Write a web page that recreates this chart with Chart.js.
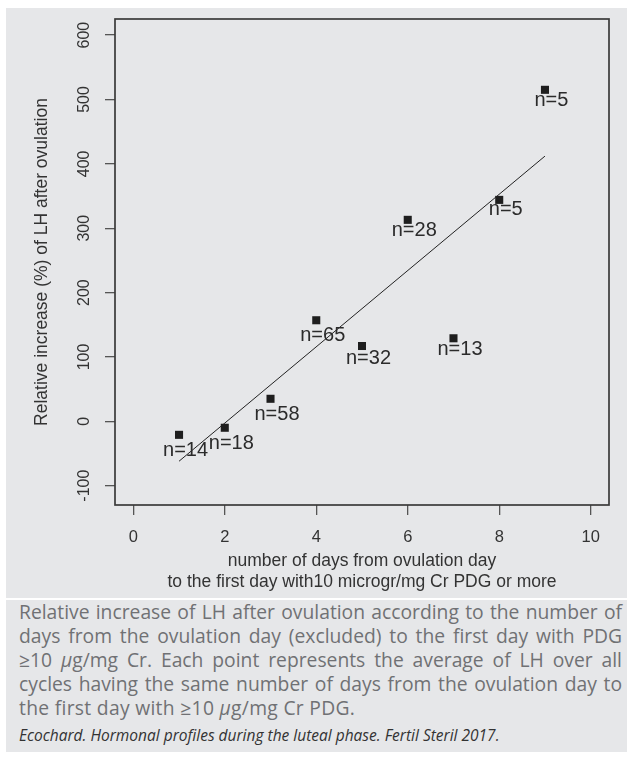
<!DOCTYPE html>
<html>
<head>
<meta charset="utf-8">
<script src="https://cdn.jsdelivr.net/npm/chart.js@4.4.1/dist/chart.umd.min.js"></script>
<style>
  html, body { margin: 0; padding: 0; background: #fff; }
  body { width: 627px; height: 757px; position: relative; overflow: hidden; }
  #plotPanel { position: absolute; left: 6px; top: 8px; width: 621px; height: 590px; background: #e6e7e9; }
  #scoreCanvas { position: absolute; left: 0; top: 0; }
  #caption { position: absolute; left: 6px; top: 600px; width: 621px; height: 152px; background: #e6e7e9; }
  .cap { position: absolute; left: 13px; width: 603px; font-family: "Open Sans", "Noto Sans", sans-serif; font-size: 19.3px; color: #707174; line-height: 24px; }
  .cap div { text-align: justify; text-align-last: justify; white-space: nowrap; }
  .cap div.last { text-align-last: left; letter-spacing: 0.3px; }
  .cite { position: absolute; left: 13px; top: 124px; font-family: "Open Sans", "Noto Sans", sans-serif; font-style: italic; font-size: 15.5px; color: #333; }
</style>
</head>
<body>
<div id="plotPanel"></div>
<canvas id="scoreCanvas" width="627" height="598"></canvas>
<div id="caption">
  <div class="cap" style="top: 0px;">
    <div>Relative increase of LH after ovulation according to the number of</div>
    <div>days from the ovulation day (excluded) to the first day with PDG</div>
    <div>≥10 <i>μ</i>g/mg Cr. Each point represents the average of LH over all</div>
    <div>cycles having the same number of days from the ovulation day to</div>
    <div class="last">the first day with ≥10 <i>μ</i>g/mg Cr PDG.</div>
  </div>
  <div class="cite">Ecochard. Hormonal profiles during the luteal phase. Fertil Steril 2017.</div>
</div>
<script>
// values
const days = [1, 2, 3, 4, 5, 6, 7, 8, 9];
const lhIncrease = [-21, -10, 35, 157, 117, 313, 129, 344, 515];
const sampleLabels = ['n=14', 'n=18', 'n=58', 'n=65', 'n=32', 'n=28', 'n=13', 'n=5', 'n=5'];
const labelY = [-46, -35, 10, 133, 98, 297, 111, 329, 498];
const fitDays = [1, 9];
const fitValues = [-62, 412];
const xTicks = [0, 2, 4, 6, 8, 10];
const yTicks = [-100, 0, 100, 200, 300, 400, 500, 600];

const axisFont = '"Liberation Sans", Arial, sans-serif';

// box, rotated y tick labels and n= labels
const annotate = {
    id: 'annotate',
    afterDatasetsDraw(chart) {
        const { ctx, chartArea, scales: { x, y } } = chart;
        ctx.save();
        ctx.strokeStyle = '#3a3a3a';
        ctx.lineWidth = 1.7;
        ctx.strokeRect(chartArea.left, chartArea.top, chartArea.right - chartArea.left, chartArea.bottom - chartArea.top);

        ctx.textAlign = 'center';
        ctx.textBaseline = 'middle';
        ctx.fillStyle = '#333';
        ctx.font = '16px ' + axisFont;
        yTicks.forEach(v => {
            ctx.save();
            ctx.translate(chartArea.left - 30, y.getPixelForValue(v));
            ctx.rotate(-Math.PI / 2);
            ctx.fillText(String(v), 0, 0);
            ctx.restore();
        });

        ctx.fillStyle = '#2b2b2b';
        ctx.font = '20px ' + axisFont;
        sampleLabels.forEach((t, i) => {
            ctx.fillText(t, x.getPixelForValue(days[i]) + 6.5, y.getPixelForValue(labelY[i]));
        });
        ctx.restore();
    }
};

const ctx = document.getElementById('scoreCanvas').getContext('2d');
const config = {
    type: 'scatter',
    data: {
        datasets: [{
            type: 'line',
            data: fitDays.map((d, i) => ({ x: d, y: fitValues[i] })),
            borderColor: '#222',
            borderWidth: 1,
            pointRadius: 0,
            fill: false
        }, {
            data: days.map((d, i) => ({ x: d, y: lhIncrease[i] })),
            pointStyle: 'rect',
            pointRadius: 5.7,
            backgroundColor: '#1e1e1e',
            borderWidth: 0
        }]
    },
    options: {
        responsive: false,
        animation: false,
        devicePixelRatio: 1,
        layout: { padding: { left: 0, top: 19, right: 18, bottom: 0 } },
        scales: {
            x: {
                type: 'linear',
                min: -0.4,
                max: 10.4,
                afterBuildTicks: s => { s.ticks = xTicks.map(v => ({ value: v })); },
                afterFit: s => { s.height = 93; },
                grid: { drawOnChartArea: false, tickLength: 10, color: '#555', lineWidth: 1.3 },
                border: { display: false },
                ticks: { color: '#333', padding: 13, font: { family: axisFont, size: 16.5 } },
                title: {
                    display: true,
                    text: ['number of days from ovulation day', 'to the first day with10 microgr/mg Cr PDG or more'],
                    color: '#333',
                    font: { family: axisFont, size: 17.5, lineHeight: 1.2 },
                    padding: { top: 0, bottom: 5.5 }
                }
            },
            y: {
                type: 'linear',
                min: -130,
                max: 625,
                afterBuildTicks: s => { s.ticks = yTicks.map(v => ({ value: v })); },
                afterFit: s => { s.width = 115; },
                grid: { drawOnChartArea: false, tickLength: 10, color: '#555', lineWidth: 1.3 },
                border: { display: false },
                ticks: { display: false },
                title: {
                    display: true,
                    text: 'Relative increase (%) of LH after ovulation',
                    color: '#333',
                    font: { family: axisFont, size: 17.5, lineHeight: 1.2 },
                    padding: { top: 31.5, bottom: 0 }
                }
            }
        },
        plugins: {
            legend: { display: false },
            tooltip: { enabled: false }
        }
    },
    plugins: [annotate]
};

const scoreChart = new Chart(ctx, config);
</script>
</body>
</html>
